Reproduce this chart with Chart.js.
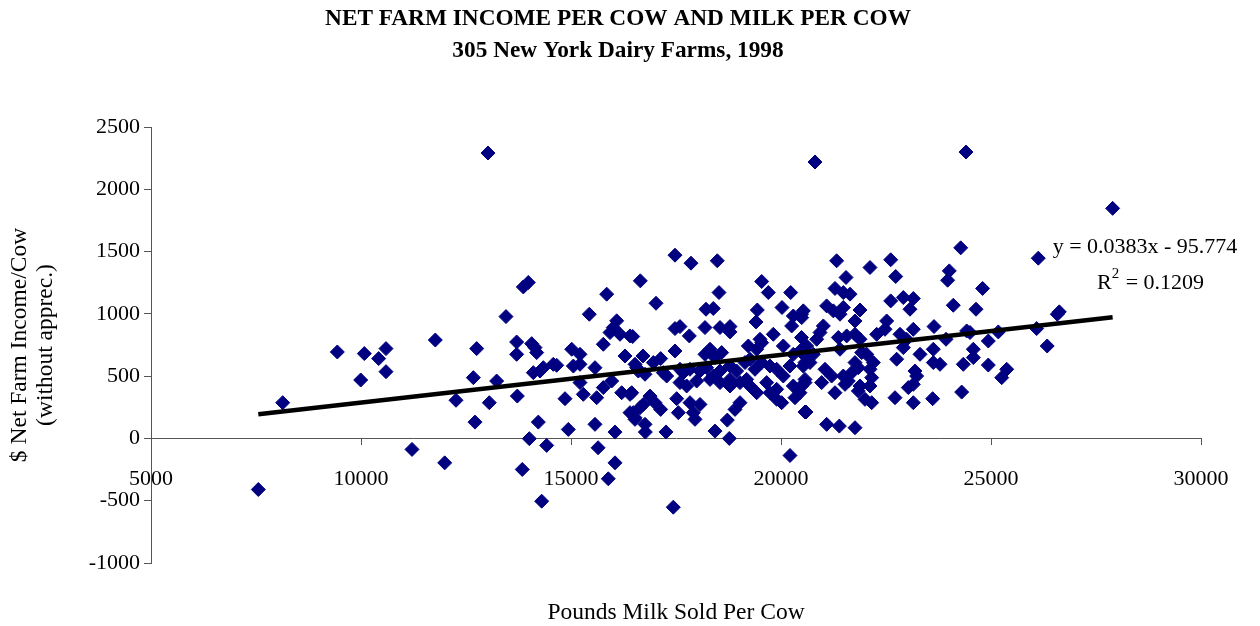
<!DOCTYPE html>
<html lang="en">
<head>
  <meta charset="UTF-8" />
  <title>Net Farm Income per Cow and Milk per Cow</title>
  <script src="https://cdn.jsdelivr.net/npm/chart.js"></script>
  <style>
    html, body { margin: 0; padding: 0; background: #fff; }
    canvas { display: block; }
  </style>
</head>
<body>
  <canvas id="farmChart" width="1260" height="626"></canvas>

  <script>
    // pounds of milk sold per cow (x) and net farm income per cow, $ (y)
    const milkPerCow = [
      7555, 8136, 9436, 9993, 10079, 10421, 10595, 10595, 11214, 11769, 11993,
      12262, 12675, 12714, 12755, 13024, 13055, 13230, 13452, 13706, 13706, 13722,
      13840, 13865, 13983, 14008, 14064, 14103, 14143, 14183, 14222, 14262, 14302,
      14341, 14421, 14579, 14659, 14857, 14936, 15017, 15056, 15214, 15214, 15214,
      15293, 15436, 15571, 15571, 15611, 15645, 15769, 15769, 15850, 15888, 15929,
      15969, 16007, 16048, 16048, 16088, 16167, 16207, 16286, 16405, 16405, 16405,
      16524, 16564, 16650, 16770, 17262, 17436, 18429, 18769, 20214,
      17476, 17857, 18483, 17024, 18524, 19540, 19698, 20231, 18214, 18388, 19436,
      19405, 20024, 20293, 20488, 20254, 17476, 17595, 17817, 18190, 18548, 18786,
      18786, 19817, 16469, 20488, 17476, 16714, 17135, 16960, 18310, 18190, 18587,
      18429, 19222, 19500, 19421, 19540, 20055, 20293, 20452, 20571, 16524, 16603,
      16762, 17278, 17198, 17595, 17675, 17833, 18071, 18230, 18388, 18548, 18786,
      18944, 18786, 19143, 19262, 19381, 19540, 19738, 19897, 20055, 20214, 17595,
      17754, 17992, 18310, 18548, 18786, 19024, 19183, 19421, 19262, 19659, 19897,
      19738, 20016, 20293, 20452, 20571, 20333, 16445, 16881, 16722, 17000, 17135,
      17516, 17556, 17833, 18071, 17952, 17912, 16484, 16643, 16524, 16762, 18722,
      18905, 19024, 19897, 20571,
      24279, 21325, 22119, 22612, 22731, 21548, 24007, 23967, 24800, 21286, 21484,
      21643, 22612, 22912, 23150, 23071, 24102, 24643, 20531, 20493, 21087, 21246,
      21405, 21484, 21881, 21762, 21008, 20929, 20850, 20611, 21365, 21564, 21762,
      21881, 21405, 22278, 22516, 22476, 22833, 23150, 22992, 22912, 23643, 23929,
      24421, 23627, 23310, 23786, 23627, 24341, 22754, 20611, 20690, 20531, 20770,
      21921, 22040, 22198, 22119, 21762, 21841, 21683, 21048, 21206, 20968, 21286,
      20571, 20493, 21484, 21603, 21524, 21881, 21841, 22159, 22119, 22000, 22159,
      23190, 23230, 23150, 23031, 22714, 23150, 23611, 24302, 20595, 21087, 21389,
      21762,
      24405, 27896, 26126, 26626, 26579, 24500, 25174, 26087, 24936, 26338, 24579,
      24579, 24936, 25374, 25255, 20810
    ];
    const incomePerCow = [
      -410, 287, 694, 469, 681, 641, 721, 536, -88, 790, -196,
      306, 488, 131, 721, 2291, 287, 461, 978, 774, 675, 340,
      -249, 1216, 1252, -2, 761, 528, 729, 689, 131, 541, -504,
      568, -56, 595, 587, 319, 72, 716, 581, 675, 595, 448,
      354, 997, 113, 568, 327, -75, 408, 756, 1158, -324, 850,
      461, 890, 51, -196, 944, 836, 367, 662, 823, 354, 207,
      166, 568, 1265, 51, 52, -552, 59, 0, -137,
      1471, 1407, 1426, 1085, 1171, 1260, 1171, 1171, 1037, 1043, 1031,
      935, 1051, 983, 997, 903, 882, 898, 823, 890, 890, 898,
      855, 836, 818, 810, 702, 662, 641, 609, 716, 675, 689,
      649, 742, 796, 716, 769, 742, 675, 702, 609, 595, 541,
      515, 501, 528, 555, 528, 555, 541, 568, 501, 541, 581,
      541, 474, 609, 636, 555, 609, 581, 555, 501, 581, 448,
      421, 461, 474, 448, 421, 448, 474, 367, 421, 448, 394,
      367, 287, 421, 367, 474, 327, 367, 340, 273, 287, 233,
      319, 207, 287, 273, 153, 207, 207, 247, 153, 113, 147,
      233, 287, 314, 212,
      1530, 1426, 1372, 1434, 1300, 1292, 1345, 1270, 1204, 1204, 1171,
      1158, 1104, 1131, 1123, 1037, 1069, 1037, 1024, 970, 1064, 1024,
      997, 1051, 1031, 943, 903, 850, 796, 742, 810, 823, 836,
      796, 716, 836, 943, 876, 836, 876, 796, 729, 898, 796,
      863, 716, 675, 595, 609, 595, 636, 649, 609, 581, 675,
      689, 675, 609, 555, 609, 568, 528, 555, 501, 448, 367,
      448, 421, 501, 461, 434, 421, 381, 488, 421, 314, 287,
      541, 501, 434, 408, 327, 287, 319, 372, 212, 113, 99,
      86,
      2299, 1847, 1447, 1016, 997, 850, 855, 882, 782, 742, 716,
      649, 589, 555, 488, 2219
    ];

    const xTickValues = [5000, 10000, 15000, 20000, 25000, 30000];
    const yTickValues = [-1000, -500, 0, 500, 1000, 1500, 2000, 2500];

    // linear trendline reported with the chart
    const trendSlope = 0.0383;
    const trendIntercept = -95.774;
    const rSquared = 0.1209;

    const serif = '"Liberation Serif", "Times New Roman", serif';
    Chart.defaults.font.family = serif;
    Chart.defaults.color = '#000';

    const points = milkPerCow.map((x, i) => ({ x: x, y: incomePerCow[i] }));
    const xMin = Math.min(...milkPerCow);
    const xMax = Math.max(...milkPerCow);
    const trendPoints = [xMin, xMax].map(x => ({ x: x, y: trendSlope * x + trendIntercept }));

    // equation + R^2 text next to the trendline
    const trendLabel = {
      id: 'trendLabel',
      afterDraw(chart) {
        const { ctx, chartArea } = chart;
        ctx.save();
        ctx.fillStyle = '#000';
        ctx.textBaseline = 'middle';
        ctx.font = '22px ' + serif;
        ctx.textAlign = 'center';
        ctx.fillText('y = ' + trendSlope + 'x - ' + Math.abs(trendIntercept),
          chartArea.right - 56, chartArea.top + 120);

        let x = chartArea.right - 104;
        const y = chartArea.top + 156;
        ctx.textAlign = 'left';
        ctx.fillText('R', x, y);
        x += ctx.measureText('R').width;
        ctx.font = '15px ' + serif;
        ctx.fillText('2', x, y - 9);
        x += ctx.measureText('2').width + 1;
        ctx.font = '22px ' + serif;
        ctx.fillText(' = ' + rSquared, x, y);
        ctx.restore();
      }
    };

    const plainNumber = v => String(v);

    const ctx = document.getElementById('farmChart').getContext('2d');
    new Chart(ctx, {
      type: 'scatter',
      data: {
        datasets: [
          {
            type: 'line',
            label: 'Trend',
            data: trendPoints,
            borderColor: '#000',
            borderWidth: 4.5,
            pointRadius: 0,
            fill: false,
            order: 0
          },
          {
            label: 'Farms',
            data: points,
            pointStyle: 'rectRot',
            pointRadius: 7,
            pointHoverRadius: 7,
            backgroundColor: '#000080',
            borderColor: '#000080',
            borderWidth: 1,
            order: 1
          }
        ]
      },
      options: {
        responsive: false,
        animation: false,
        layout: { padding: { left: 35, right: 59, top: 0, bottom: 0 } },
        plugins: {
          legend: { display: false },
          tooltip: { enabled: false },
          title: {
            display: true,
            text: ['NET FARM INCOME PER COW AND MILK PER COW', '305 New York Dairy Farms, 1998'],
            font: { size: 23.3, weight: 'bold', lineHeight: '32px' },
            color: '#000',
            padding: { top: 3, bottom: 60 }
          },
          subtitle: {
            display: true,
            position: 'bottom',
            fullSize: false,
            text: 'Pounds Milk Sold Per Cow',
            font: { size: 23.5, lineHeight: '26px' },
            color: '#000',
            padding: { top: 37, bottom: 0 }
          }
        },
        scales: {
          x: {
            type: 'linear',
            position: { y: 0 },
            min: 5000,
            max: 30000,
            afterBuildTicks: scale => { scale.ticks = xTickValues.map(v => ({ value: v })); },
            ticks: { font: { size: 22 }, color: '#000', padding: 22, maxRotation: 0, callback: plainNumber },
            grid: { drawOnChartArea: false, tickLength: 6, color: '#555' },
            border: { color: '#555', width: 1 }
          },
          y: {
            type: 'linear',
            min: -1000,
            max: 2500,
            afterBuildTicks: scale => { scale.ticks = yTickValues.map(v => ({ value: v })); },
            afterFit: scale => { scale.width = 116; },
            ticks: { font: { size: 22 }, color: '#000', padding: 4, callback: plainNumber },
            grid: { drawOnChartArea: false, tickLength: 7, color: '#555' },
            border: { color: '#555', width: 1 },
            title: {
              display: true,
              text: ['$ Net Farm Income/Cow', '(without apprec.)'],
              font: { size: 23.5, lineHeight: '26px' },
              color: '#000',
              padding: { top: -28, bottom: 0 }
            }
          }
        }
      },
      plugins: [trendLabel]
    });
  </script>
</body>
</html>
